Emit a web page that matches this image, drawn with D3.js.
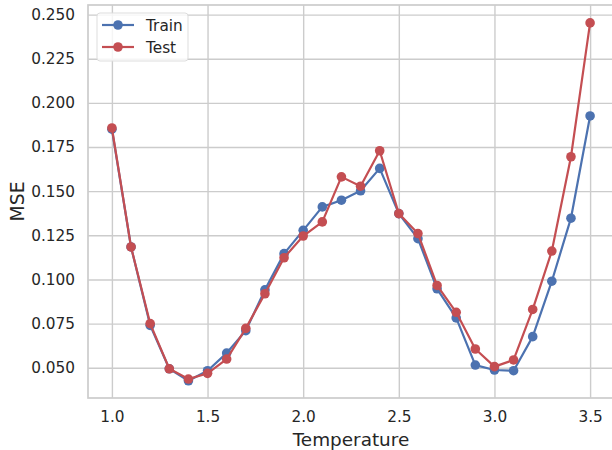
<!DOCTYPE html>
<html><head><meta charset="utf-8">
<script src="https://cdn.jsdelivr.net/npm/d3@7"></script>
<style>body{margin:0;background:#fff}svg{display:block}</style>
</head><body><svg id="c" width="612" height="450"></svg>
<script>
const temperature = [1.0,1.1,1.2,1.3,1.4,1.5,1.6,1.7,1.8,1.9,2.0,2.1,2.2,2.3,2.4,2.5,2.6,2.7,2.8,2.9,3.0,3.1,3.2,3.3,3.4,3.5];
const trainMSE = [0.1851,0.1184,0.0740,0.0494,0.0426,0.0483,0.0583,0.0710,0.0941,0.1146,0.1278,0.1411,0.1449,0.1502,0.1629,0.1373,0.1231,0.0947,0.0782,0.0515,0.0487,0.0483,0.0676,0.0990,0.1347,0.1926];
const testMSE  = [0.1858,0.1184,0.0750,0.0494,0.0436,0.0468,0.0549,0.0723,0.0919,0.1123,0.1246,0.1326,0.1581,0.1528,0.1729,0.1373,0.1260,0.0966,0.0814,0.0606,0.0506,0.0544,0.0830,0.1161,0.1695,0.2453];
const xTicks = [1.0,1.5,2.0,2.5,3.0,3.5];
const yTicks = [0.050,0.075,0.100,0.125,0.150,0.175,0.200,0.225,0.250];
const seriesNames = ["Train","Test"];
const seriesColors = ["#4C72B0","#C44E52"];

const svg = d3.select("#c");
const L=88,R=614,T=5,B=398;
const x = d3.scaleLinear().domain([0.875,3.625]).range([L,R]);
const y = d3.scaleLinear().domain([0.03285,0.25545]).range([B,T]);
const font = "DejaVu Sans, sans-serif";
const txt = "#262626";
const grid = "#cccccc";

// grid
const gx = svg.append("g").attr("transform",`translate(0,${B})`)
  .call(d3.axisBottom(x).tickValues(xTicks).tickSize(-(B-T)).tickPadding(13).tickFormat(d3.format(".1f")));
const gy = svg.append("g").attr("transform",`translate(${L},0)`)
  .call(d3.axisLeft(y).tickValues(yTicks).tickSize(-(R-L)).tickPadding(13).tickFormat(d3.format(".3f")));
[gx,gy].forEach(g=>{
  g.select(".domain").remove();
  g.selectAll(".tick line").attr("stroke",grid).attr("stroke-width",1.4);
  g.selectAll(".tick text").attr("fill",txt).style("font-family",font).style("font-size","15.3px");
});
gx.selectAll(".tick text").attr("dy","0.71em");

// frame
svg.append("rect").attr("x",L).attr("y",T).attr("width",R-L).attr("height",B-T)
  .attr("fill","none").attr("stroke",grid).attr("stroke-width",1.7);

const data = [trainMSE,testMSE];
const line = d3.line().x((d,i)=>x(temperature[i])).y(d=>y(d));
data.forEach((vals,k)=>{
  const g = svg.append("g");
  g.append("path").datum(vals).attr("d",line).attr("fill","none")
    .attr("stroke",seriesColors[k]).attr("stroke-width",2.2).attr("stroke-linejoin","round");
  g.selectAll("circle").data(vals).join("circle")
    .attr("cx",(d,i)=>x(temperature[i])).attr("cy",d=>y(d)).attr("r",4.8)
    .attr("fill",seriesColors[k]);
});

// legend
const lg = svg.append("g");
lg.append("rect").attr("x",97).attr("y",13).attr("width",91).attr("height",48).attr("rx",3)
  .attr("fill","#fff").attr("fill-opacity",0.8).attr("stroke","#dddddd").attr("stroke-width",1);
seriesNames.forEach((n,k)=>{
  const yy = 25+k*22;
  lg.append("line").attr("x1",102).attr("x2",134).attr("y1",yy).attr("y2",yy)
    .attr("stroke",seriesColors[k]).attr("stroke-width",2.2);
  lg.append("circle").attr("cx",118).attr("cy",yy).attr("r",4.8).attr("fill",seriesColors[k]);
  lg.append("text").attr("x",146).attr("y",yy).attr("dy","0.36em").text(n)
    .attr("fill",txt).style("font-family",font).style("font-size","15.3px");
});

// axis labels
svg.append("text").attr("x",(L+R)/2).attr("y",445.5).attr("text-anchor","middle")
  .text("Temperature").attr("fill",txt).style("font-family",font).style("font-size","18.4px");
svg.append("text").attr("transform",`translate(23.5,${(T+B)/2}) rotate(-90)`).attr("text-anchor","middle")
  .text("MSE").attr("fill",txt).style("font-family",font).style("font-size","18.8px");
</script></body></html>
